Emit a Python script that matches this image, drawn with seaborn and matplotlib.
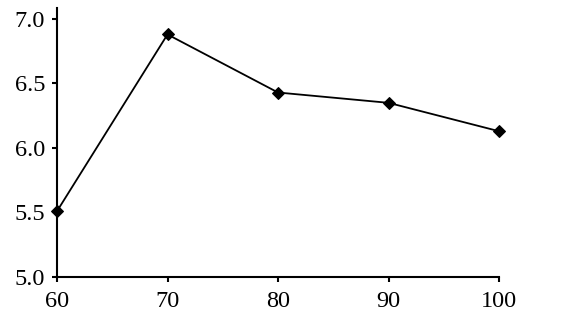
import matplotlib
matplotlib.use("Agg")
import matplotlib.pyplot as plt
import seaborn as sns
import pandas as pd

x_vals = [60, 70, 80, 90, 100]
y_vals = [5.51, 6.88, 6.43, 6.35, 6.13]
x_ticks = [60, 70, 80, 90, 100]
y_ticks = [5.0, 5.5, 6.0, 6.5, 7.0]
y_tick_labels = ["5.0", "5.5", "6.0", "6.5", "7.0"]

sns.set_style("ticks")
plt.rcParams['font.family'] = ['Liberation Serif', 'DejaVu Serif']

df = pd.DataFrame({"x": x_vals, "y": y_vals})

fig = plt.figure(figsize=(5.72, 3.23), dpi=100)
ax = fig.add_axes([57/572, 1-277/323, (499-57)/572, (277-8)/323])

sns.lineplot(data=df, x="x", y="y", ax=ax, color="black", linewidth=1.3,
             marker="D", markersize=6.5, markeredgecolor="black", markerfacecolor="black",
             clip_on=False)

ax.set_xlim(60, 100)
ax.set_ylim(5.0, 7.085)
ax.set_xticks(x_ticks)
ax.set_xticklabels([str(v) for v in x_ticks])
ax.set_yticks(y_ticks)
ax.set_yticklabels(y_tick_labels)
ax.set_xlabel("")
ax.set_ylabel("")
for s in ["top", "right"]:
    ax.spines[s].set_visible(False)
for s in ["left", "bottom"]:
    ax.spines[s].set_linewidth(1.5)
    ax.spines[s].set_color("black")
ax.tick_params(axis="both", direction="out", length=3.6, width=1.5, colors="black",
               labelsize=17.5)
ax.tick_params(axis="y", pad=5)
ax.tick_params(axis="x", pad=6.5)

fig.savefig("out.png", dpi=100)
